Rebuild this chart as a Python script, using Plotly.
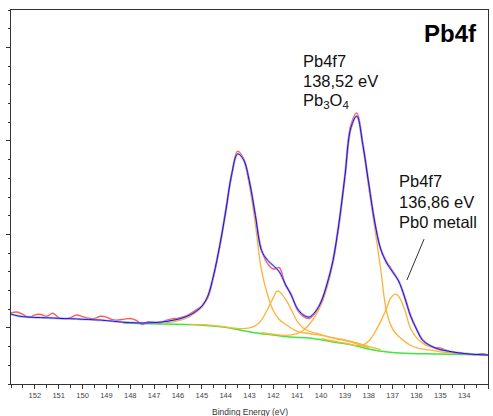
import plotly.graph_objects as go

# ---- data (binding energy in eV, intensity in arbitrary units) ----
ENERGY = [153.00, 152.75, 152.50, 152.25, 152.00, 151.75, 151.50, 151.25, 151.00, 150.75,
          150.50, 150.25, 150.00, 149.75, 149.50, 149.25, 149.00, 148.75, 148.50, 148.25,
          148.00, 147.75, 147.50, 147.25, 147.00, 146.75, 146.50, 146.25, 146.00, 145.75,
          145.50, 145.25, 145.00, 144.75, 144.50, 144.25, 144.00, 143.75, 143.50, 143.25,
          143.00, 142.75, 142.50, 142.25, 142.00, 141.75, 141.50, 141.25, 141.00, 140.75,
          140.50, 140.25, 140.00, 139.75, 139.50, 139.25, 139.00, 138.75, 138.50, 138.25,
          138.00, 137.75, 137.50, 137.25, 137.00, 136.75, 136.50, 136.25, 136.00, 135.75,
          135.50, 135.25, 135.00, 134.75, 134.50, 134.25, 134.00, 133.75, 133.50, 133.25,
          133.00]

RAW = [3.80, 3.85, 3.72, 3.56, 3.70, 3.72, 3.62, 3.78, 3.55, 3.48,
       3.55, 3.69, 3.60, 3.52, 3.50, 3.62, 3.58, 3.44, 3.42, 3.47,
       3.50, 3.40, 3.18, 3.33, 3.30, 3.25, 3.40, 3.48, 3.52, 3.60,
       3.75, 3.95, 4.18, 4.62, 5.80, 7.30, 9.30, 11.15, 12.45, 12.05,
       10.85, 8.95, 7.20, 6.45, 6.15, 6.22, 5.30, 4.80, 3.98, 3.62,
       3.50, 3.80, 4.42, 5.30, 6.62, 8.55, 11.15, 13.85, 14.50, 12.90,
       10.75, 8.70, 7.20, 6.55, 6.05, 5.52, 4.70, 3.70, 2.95, 2.38,
       2.10, 1.96, 1.93, 1.80, 1.70, 1.66, 1.62, 1.60, 1.57, 1.62,
       1.55]

ENVELOPE = [3.74, 3.65, 3.60, 3.58, 3.56, 3.55, 3.54, 3.53, 3.51, 3.50,
            3.49, 3.48, 3.46, 3.45, 3.43, 3.42, 3.39, 3.36, 3.33, 3.30,
            3.28, 3.27, 3.26, 3.27, 3.28, 3.31, 3.34, 3.40, 3.46, 3.56,
            3.69, 3.88, 4.15, 4.70, 5.85, 7.40, 9.20, 11.20, 12.30, 12.00,
            10.80, 9.00, 7.15, 6.63, 6.33, 6.00, 5.35, 4.75, 4.05, 3.70,
            3.58, 3.85, 4.38, 5.35, 6.60, 8.60, 11.10, 13.70, 14.33, 12.80,
            10.70, 8.66, 7.22, 6.47, 5.99, 5.51, 4.65, 3.64, 2.94, 2.35,
            2.11, 1.95, 1.84, 1.78, 1.72, 1.67, 1.63, 1.60, 1.58, 1.56,
            1.55]

BG_E = [148.30, 147.20, 146.00, 145.10, 144.10, 143.40, 142.70, 142.00, 141.30, 140.50,
        139.50, 138.70, 137.80, 136.70, 135.10, 133.00]
BG_I = [3.26, 3.22, 3.19, 3.16, 3.05, 2.89, 2.73, 2.62, 2.51, 2.46,
        2.25, 2.09, 1.82, 1.66, 1.60, 1.55]

# Pb4f5/2 oxide
C1_E = [146.50, 146.00, 145.50, 145.25, 145.00, 144.75, 144.50, 144.25, 144.00, 143.75,
        143.50, 143.25, 143.00, 142.75, 142.50, 142.25, 142.00, 141.75, 141.50, 141.00,
        140.50, 140.00, 139.50, 139.00, 138.50, 138.00, 137.50]
C1_I = [3.28, 3.38, 3.62, 3.84, 4.10, 4.62, 5.75, 7.35, 9.15, 11.15,
        12.30, 11.95, 10.55, 8.50, 6.10, 4.80, 3.92, 3.45, 3.20, 2.82,
        2.70, 2.60, 2.48, 2.36, 2.20, 2.00, 1.84]

# Pb4f5/2 metal
C2_E = [145.50, 145.00, 144.50, 144.00, 143.50, 143.00, 142.75, 142.50, 142.25, 142.00,
        141.85, 141.75, 141.50, 141.25, 141.00, 140.75, 140.50, 140.00, 139.50, 139.00,
        138.50, 138.00]
C2_I = [3.19, 3.17, 3.12, 3.05, 2.97, 3.00, 3.12, 3.42, 3.98, 4.62,
        4.97, 4.93, 4.55, 3.98, 3.35, 3.00, 2.82, 2.64, 2.45, 2.32,
        2.15, 1.93]

# Pb4f7/2 oxide (Pb3O4)
C3_E = [142.50, 142.00, 141.50, 141.00, 140.75, 140.50, 140.25, 140.00, 139.75, 139.50,
        139.25, 139.00, 138.75, 138.50, 138.25, 138.00, 137.75, 137.50, 137.25, 137.00,
        136.75, 136.50, 136.25, 136.00, 135.50, 135.00, 134.50, 134.00]
C3_I = [2.74, 2.66, 2.60, 2.70, 2.86, 3.18, 3.62, 4.22, 5.15, 6.45,
        8.45, 10.95, 13.60, 14.30, 12.75, 10.50, 8.35, 6.15, 3.85, 2.95,
        2.55, 2.28, 2.07, 1.95, 1.82, 1.72, 1.66, 1.62]

# Pb4f7/2 metal (Pb0)
C4_E = [140.00, 139.50, 139.00, 138.50, 138.25, 138.00, 137.75, 137.50, 137.25, 137.10,
        136.90, 136.75, 136.50, 136.25, 136.00, 135.75, 135.50, 135.00, 134.50, 134.00,
        133.50]
C4_I = [2.42, 2.30, 2.18, 2.06, 2.08, 2.30, 2.75, 3.35, 4.05, 4.55,
        4.81, 4.70, 4.00, 2.98, 2.48, 2.20, 2.02, 1.82, 1.70, 1.62,
        1.57]

X_TICKS = [152, 151, 150, 149, 148, 147, 146, 145, 144, 143,
           142, 141, 140, 139, 138, 137, 136, 135, 134, 133]
Y_MAJOR_TICKS = [3, 8, 13, 18]

TITLE = "Pb4f"
X_TITLE = "Binding Energy (eV)"
LABEL_OXIDE = ["Pb4f7", "138,52 eV", "Pb<sub>3</sub>O<sub>4</sub>"]
LABEL_METAL = ["Pb4f7", "136,86 eV", "Pb0 metall"]

FONT = "Liberation Sans, Arial, sans-serif"

fig = go.Figure()

fig.add_trace(go.Scatter(x=BG_E, y=BG_I, mode="lines",
                         line=dict(color="#3ee83e", width=1.5, shape="spline")))
for ce, ci in [(C1_E, C1_I), (C2_E, C2_I), (C3_E, C3_I), (C4_E, C4_I)]:
    fig.add_trace(go.Scatter(x=ce, y=ci, mode="lines",
                             line=dict(color="#ffb23a", width=1.3, shape="spline")))
fig.add_trace(go.Scatter(x=ENERGY, y=RAW, mode="lines",
                         line=dict(color="#ff5a5a", width=1.4, shape="spline")))
fig.add_trace(go.Scatter(x=ENERGY, y=ENVELOPE, mode="lines", opacity=0.6,
                         line=dict(color="#9a9aff", width=2.4, shape="spline")))
fig.add_trace(go.Scatter(x=ENERGY, y=ENVELOPE, mode="lines",
                         line=dict(color="#1414d8", width=1.0, shape="spline")))

annotations = []
annotations.append(dict(x=134.59, y=18.77, xref="x", yref="y", text="<b>" + TITLE + "</b>",
                        showarrow=False, xanchor="center", yanchor="middle",
                        font=dict(family=FONT, size=24, color="#000")))
for txt, yy in zip(LABEL_OXIDE, [17.27, 16.20, 15.13]):
    annotations.append(dict(x=140.84, y=yy, xref="x", yref="y", text=txt, showarrow=False,
                            xanchor="left", yanchor="middle",
                            font=dict(family=FONT, size=16.5, color="#111")))
for txt, yy in zip(LABEL_METAL, [10.85, 9.75, 8.67]):
    annotations.append(dict(x=136.82, y=yy, xref="x", yref="y", text=txt, showarrow=False,
                            xanchor="left", yanchor="middle",
                            font=dict(family=FONT, size=16.5, color="#111")))
# x-axis title, placed just below the tick labels
annotations.append(dict(x=0.5, y=-0.075, xref="paper", yref="paper", text=X_TITLE,
                        showarrow=False, xanchor="center", yanchor="middle",
                        font=dict(family=FONT, size=8.5, color="#333")))

fig.add_shape(type="line", xref="x", yref="y", x0=135.68, y0=7.75, x1=136.40, y1=5.56,
              line=dict(color="#333", width=1))

fig.update_layout(
    width=493, height=416, autosize=False,
    margin=dict(l=11, r=5, t=10, b=32),
    paper_bgcolor="white", plot_bgcolor="white",
    showlegend=False,
    annotations=annotations,
    font=dict(family=FONT, color="#333"),
)
fig.update_xaxes(
    range=[153, 133], autorange=False,
    tickvals=X_TICKS, ticks="outside", ticklen=4, tickcolor="#333",
    minor=dict(dtick=0.5, tick0=133, ticks="outside", ticklen=3, tickcolor="#333"),
    showline=True, linecolor="#333", linewidth=1, mirror=True,
    showgrid=False, zeroline=False,
    tickfont=dict(family=FONT, size=7.5, color="#444"),
)
fig.update_yaxes(
    range=[0, 20], autorange=False,
    tickvals=Y_MAJOR_TICKS, ticks="outside", ticklen=4, tickcolor="#333",
    minor=dict(dtick=1, tick0=0, ticks="outside", ticklen=2, tickcolor="#333"),
    showticklabels=False,
    showline=True, linecolor="#333", linewidth=1, mirror=True,
    showgrid=False, zeroline=False,
)

fig.write_html("out.html", config={"displayModeBar": False},
               post_script="document.body.style.margin='0';document.body.style.padding='0';")
